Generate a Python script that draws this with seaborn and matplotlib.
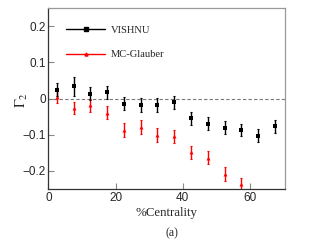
import matplotlib
matplotlib.use("Agg")
import matplotlib.pyplot as plt
from matplotlib.lines import Line2D
import seaborn as sns
import pandas as pd
import numpy as np

# Data
cent_vishnu = [2.5, 7.5, 12.5, 17.5, 22.5, 27.5, 32.5, 37.5, 42.5, 47.5, 52.5, 57.5, 62.5, 67.5]
g2_vishnu = [0.025, 0.034, 0.013, 0.017, -0.014, -0.017, -0.018, -0.010, -0.055, -0.069, -0.080, -0.086, -0.103, -0.076]
err_vishnu = [0.017, 0.026, 0.018, 0.018, 0.017, 0.019, 0.019, 0.018, 0.018, 0.018, 0.017, 0.017, 0.018, 0.018]

cent_glauber = [2.5, 7.5, 12.5, 17.5, 22.5, 27.5, 32.5, 37.5, 42.5, 47.5, 52.5, 57.5]
g2_glauber = [0.005, -0.026, -0.019, -0.039, -0.087, -0.078, -0.101, -0.104, -0.148, -0.163, -0.208, -0.237]
err_glauber = [0.016, 0.016, 0.017, 0.018, 0.020, 0.019, 0.019, 0.018, 0.018, 0.019, 0.019, 0.019]

xticks = [0, 20, 40, 60]
yticks = [-0.2, -0.1, 0, 0.1, 0.2]
ytick_labels = ["\u22120.2", "\u22120.1", "0", "0.1", "0.2"]

df_v = pd.DataFrame({"cent": cent_vishnu, "g2": g2_vishnu, "err": err_vishnu})
df_g = pd.DataFrame({"cent": cent_glauber, "g2": g2_glauber, "err": err_glauber})

sns.set_style("ticks")
plt.rcParams["font.family"] = ["Liberation Sans", "DejaVu Sans"]
plt.rcParams["mathtext.fontset"] = "stix"

fig = plt.figure(figsize=(3.23, 2.44), dpi=100)
ax = fig.add_axes([0.150, 0.225, 0.732, 0.742])

ax.axhline(0, color="#777777", lw=0.8, ls=(0, (3, 2)), zorder=1)

ax.errorbar(df_g["cent"], df_g["g2"], yerr=df_g["err"], fmt="none", ecolor="red",
            elinewidth=1.0, capsize=0.8, capthick=0.8, zorder=2)
sns.scatterplot(data=df_g, x="cent", y="g2", ax=ax, color="red", marker="^", s=8,
                linewidth=0, zorder=3, legend=False)

ax.errorbar(df_v["cent"], df_v["g2"], yerr=df_v["err"], fmt="none", ecolor="black",
            elinewidth=1.0, capsize=0.8, capthick=0.8, zorder=4)
sns.scatterplot(data=df_v, x="cent", y="g2", ax=ax, color="black", marker="s", s=12,
                linewidth=0, zorder=5, legend=False)

ax.set_xlim(0, 70.5)
ax.set_ylim(-0.25, 0.25)
ax.set_xticks(xticks)
ax.set_xticklabels([str(t) for t in xticks], fontsize=8.5)
ax.set_yticks(yticks)
ax.set_yticklabels(ytick_labels, fontsize=8.5)
ax.tick_params(direction="in", length=4.5, width=0.8, color="#888888", pad=2)

for side in ["top", "right"]:
    ax.spines[side].set_visible(True)
    ax.spines[side].set_color("#999999")
    ax.spines[side].set_linewidth(0.9)
for side in ["left", "bottom"]:
    ax.spines[side].set_color("#333333")
    ax.spines[side].set_linewidth(0.9)

ax.set_xlabel("%Centrality", family=["Liberation Serif", "DejaVu Serif"], fontsize=9.3, labelpad=2)
ax.set_ylabel(r"$\Gamma_2$", fontsize=10.5)
ax.yaxis.set_label_coords(-0.08, 0.49)

handles = [
    Line2D([0], [0], color="black", lw=1.0, marker="s", markersize=2.5),
    Line2D([0], [0], color="red", lw=1.0, marker="^", markersize=2.2),
]
leg = ax.legend(handles, ["VISHNU", "MC-Glauber"], loc="upper left",
                bbox_to_anchor=(0.035, 0.955), frameon=False, handlelength=3.7,
                handletextpad=0.5, labelspacing=1.4,
                prop={"family": ["Liberation Serif", "DejaVu Serif"], "size": 7.6})

fig.text(0.532, 0.03, "(a)", family=["Liberation Serif", "DejaVu Serif"], fontsize=8.5, ha="center")

fig.savefig("out.png", dpi=100)
